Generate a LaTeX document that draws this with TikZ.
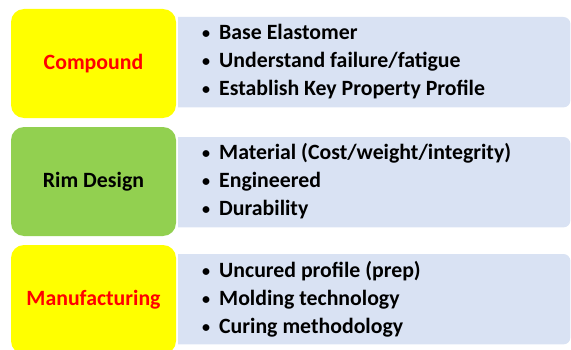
\documentclass[tikz,border=0pt]{standalone}
\usepackage{fontspec}
\setmainfont{Carlito}
\usetikzlibrary{backgrounds}
\definecolor{ylw}{HTML}{FFFF00}
\definecolor{grn}{HTML}{92D050}
\definecolor{lblue}{HTML}{D9E2F3}
\definecolor{rd}{HTML}{FF0000}
\tikzset{
  x=1pt,y=1pt,
  headbox/.style={rectangle,rounded corners=13pt,minimum width=165pt,minimum height=109pt,inner sep=0pt,font=\bfseries\fontsize{21.8}{24}\selectfont},
  listbox/.style={rectangle,anchor=north west,minimum width=392pt,minimum height=90pt,inner sep=0pt},
  itemtext/.style={anchor=west,align=left,inner sep=0pt,font=\bfseries\fontsize{21.8}{28}\selectfont},
}
\newcommand{\bul}{\makebox[17pt][l]{\raisebox{1pt}{\fontsize{16}{16}\selectfont\textbullet}}}
\begin{document}
\begin{tikzpicture}
\useasboundingbox (0,0) rectangle (571,349);
\begin{scope}
\clip (0,0) rectangle (571,349);
% left boxes
\node[headbox,fill=ylw,text=rd] (h1) at (93.5,349-63.5) {Compound};
\node[headbox,fill=grn,text=black] (h2) at (93.5,349-181.5) {Rim Design};
\node[headbox,fill=ylw,text=rd] (h3) at (93.5,349-299.5) {Manufacturing};
% list boxes
\node[listbox] (b1) at (178,349-17) {};
\node[listbox] (b2) at (178,349-137) {};
\node[listbox] (b3) at (178,349-254) {};
\foreach \b in {b1,b2,b3}{
  \fill[lblue] (\b.south west) -- (\b.north west) [rounded corners=7pt] -- (\b.north east) -- (\b.south east) [sharp corners] -- cycle;
}
\node[itemtext] (t1) at (202,349-62) {\bul Base Elastomer\\\bul Understand failure/fatigue\\\bul Establish Key Property Profile};
\node[itemtext] (t2) at (202,349-181.5) {\bul Material (Cost/weight/integrity)\\\bul Engineered\\\bul Durability};
\node[itemtext] (t3) at (202,349-299) {\bul Uncured profile (prep)\\\bul Molding technology\\\bul Curing methodology};
\end{scope}
\end{tikzpicture}
\end{document}
